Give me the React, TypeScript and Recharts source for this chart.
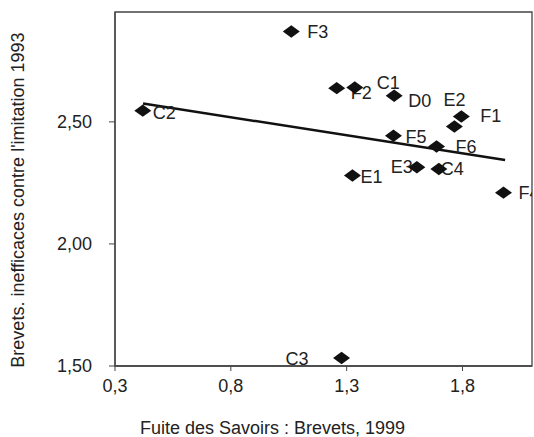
import {
  ScatterChart,
  Scatter,
  XAxis,
  YAxis,
  ReferenceArea,
  ReferenceLine,
} from 'recharts';

// Pays / secteurs (labels des points)
const names = ['F3', 'C2', 'F2', 'C1', 'D0', 'F1', 'E2', 'F5', 'F6', 'E3', 'C4', 'E1', 'F4', 'C3'];
// Fuite des Savoirs : Brevets, 1999
const fuite = [1.061, 0.42, 1.257, 1.335, 1.505, 1.795, 1.765, 1.502, 1.688, 1.603, 1.698, 1.325, 1.977, 1.278];
// Brevets inefficaces contre l'imitation 1993
const inefficaces = [2.87, 2.546, 2.638, 2.641, 2.607, 2.522, 2.481, 2.443, 2.399, 2.314, 2.307, 2.28, 2.21, 1.533];

const xTicks = [0.3, 0.8, 1.3, 1.8];
const yTicks = [1.5, 2.0, 2.5];

// droite de tendance
const trendX = [0.421, 1.984];
const trendY = [2.575, 2.344];

const data = names.map((name, i) => ({ name, x: fuite[i], y: inefficaces[i] }));

// placement des étiquettes autour des losanges
const labelPos: Record<string, { dx: number; dy: number; anchor?: string }> = {
  F3: { dx: 16, dy: 0 },
  C2: { dx: 10, dy: 2 },
  F2: { dx: 14, dy: 5 },
  C1: { dx: 22, dy: -4 },
  D0: { dx: 14, dy: 5 },
  F1: { dx: 19, dy: 0 },
  E2: { dx: -11, dy: -27 },
  F5: { dx: 12, dy: 1 },
  F6: { dx: 19, dy: 0 },
  E3: { dx: -4, dy: 0, anchor: 'end' },
  C4: { dx: 2, dy: 0 },
  E1: { dx: 8, dy: 1 },
  F4: { dx: 15, dy: 0 },
  C3: { dx: -33, dy: 1, anchor: 'end' },
};

const FONT = 'Liberation Sans, Arial, sans-serif';
const TEXT = '#222';
const AXIS = '#444';

const fmtX = (v: number) => v.toFixed(1).replace('.', ',');
const fmtY = (v: number) => v.toFixed(2).replace('.', ',');

const Diamond = (props: any) => {
  const { cx, cy } = props;
  return (
    <path
      d={`M${cx - 8.5},${cy} L${cx},${cy - 6.2} L${cx + 8.5},${cy} L${cx},${cy + 6.2} Z`}
      fill="#111"
    />
  );
};

const PointLabel = (props: any) => {
  const { cx, cy, payload } = props;
  const p = labelPos[payload.name] || { dx: 10, dy: 0 };
  return (
    <text
      x={cx + p.dx}
      y={cy + p.dy}
      textAnchor={p.anchor || 'start'}
      dominantBaseline="central"
      fontSize={18}
      fontFamily={FONT}
      fill={TEXT}
    >
      {payload.name}
    </text>
  );
};

export default function App() {
  return (
    <div style={{ width: 534, height: 437, background: '#fff' }}>
      <style>{'body{margin:0}'}</style>
      <ScatterChart
        width={534}
        height={437}
        margin={{ top: 12, right: 2, left: 45, bottom: 31 }}
      >
        <XAxis
          type="number"
          dataKey="x"
          domain={[0.3, 2.1]}
          ticks={xTicks}
          tickFormatter={fmtX}
          allowDataOverflow
          height={40}
          tickSize={5}
          tickMargin={8}
          axisLine={{ stroke: AXIS, strokeWidth: 1.3 }}
          tickLine={{ stroke: AXIS }}
          tick={{ fill: TEXT, fontSize: 18, fontFamily: FONT }}
          label={(lp: any) => {
            const vb = lp.viewBox;
            return (
              <text
                x={vb.x + vb.width / 2 - 51}
                y={428}
                textAnchor="middle"
                dominantBaseline="central"
                fontSize={18}
                fontFamily={FONT}
                fill={TEXT}
              >
                Fuite des Savoirs : Brevets, 1999
              </text>
            );
          }}
        />
        <YAxis
          type="number"
          dataKey="y"
          domain={[1.5, 2.95]}
          ticks={yTicks}
          tickFormatter={fmtY}
          allowDataOverflow
          width={70}
          tickSize={6}
          tickMargin={17}
          axisLine={{ stroke: AXIS, strokeWidth: 1.3 }}
          tickLine={{ stroke: AXIS }}
          tick={{ fill: TEXT, fontSize: 18, fontFamily: FONT }}
          label={(lp: any) => {
            const vb = lp.viewBox;
            const cy = vb.y + vb.height / 2 + 11;
            return (
              <text
                x={18}
                y={cy}
                transform={`rotate(-90, 18, ${cy})`}
                textAnchor="middle"
                dominantBaseline="central"
                fontSize={18}
                fontFamily={FONT}
                fill={TEXT}
              >
                Brevets. inefficaces contre l'imitation 1993
              </text>
            );
          }}
        />
        <ReferenceArea
          x1={0.3}
          x2={2.1}
          y1={1.5}
          y2={2.95}
          fill="none"
          fillOpacity={0}
          stroke={AXIS}
          strokeWidth={1.3}
          ifOverflow="visible"
        />
        <ReferenceLine
          segment={[
            { x: trendX[0], y: trendY[0] },
            { x: trendX[1], y: trendY[1] },
          ]}
          stroke="#111"
          strokeWidth={2.5}
          ifOverflow="visible"
        />
        <Scatter data={data} shape={PointLabel} isAnimationActive={false} />
        <Scatter data={data} shape={Diamond} isAnimationActive={false} />
      </ScatterChart>
    </div>
  );
}
